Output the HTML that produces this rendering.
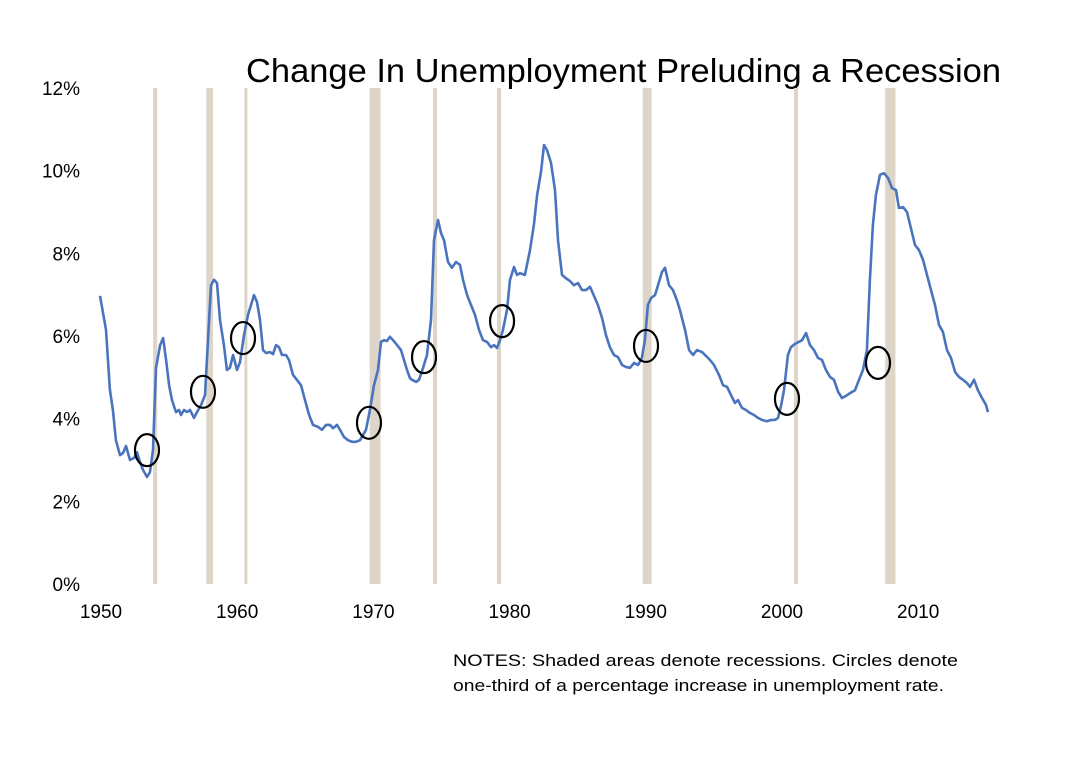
<!DOCTYPE html>
<html><head><meta charset="utf-8"><style>
body{margin:0;background:#fff;}
svg{display:block;font-family:"Liberation Sans",Arial,sans-serif;}
</style></head><body>
<svg id="chart" width="1088" height="760">
<text x="246" y="82" font-size="33" textLength="755" lengthAdjust="spacingAndGlyphs" fill="#000">Change In Unemployment Preluding a Recession</text>
<g id="bands"></g>
<g id="yticks"></g>
<g id="xticks"></g>
<path id="line" fill="none" stroke="#4a74bd" stroke-width="2.6" stroke-linejoin="round"/>
<g id="circles"></g>
<text x="453" y="666" font-size="17" textLength="505" lengthAdjust="spacingAndGlyphs" fill="#000">NOTES: Shaded areas denote recessions. Circles denote</text>
<text x="453" y="691" font-size="17" textLength="491" lengthAdjust="spacingAndGlyphs" fill="#000">one-third of a percentage increase in unemployment rate.</text>
</svg>
<script>
const years=[1950.00,1950.44,1950.73,1950.95,1951.17,1951.47,1951.69,1951.91,1952.20,1952.50,1952.72,1952.94,1953.16,1953.45,1953.67,1953.89,1954.11,1954.41,1954.63,1954.85,1955.07,1955.29,1955.58,1955.80,1955.95,1956.17,1956.39,1956.61,1956.90,1957.12,1957.42,1957.71,1957.93,1958.15,1958.37,1958.59,1958.81,1959.10,1959.32,1959.54,1959.77,1960.06,1960.28,1960.57,1960.87,1961.09,1961.31,1961.53,1961.75,1961.97,1962.19,1962.48,1962.70,1962.92,1963.14,1963.36,1963.66,1963.88,1964.17,1964.46,1964.76,1965.05,1965.35,1965.64,1966.01,1966.30,1966.59,1966.89,1967.11,1967.40,1967.62,1967.91,1968.21,1968.50,1968.80,1969.09,1969.53,1969.82,1970.12,1970.41,1970.63,1970.85,1971.07,1971.29,1971.51,1971.81,1972.10,1972.32,1972.54,1972.76,1972.91,1973.20,1973.42,1973.72,1974.01,1974.30,1974.52,1974.82,1975.04,1975.26,1975.55,1975.84,1976.14,1976.43,1976.65,1976.95,1977.24,1977.53,1977.83,1978.12,1978.41,1978.71,1978.93,1979.15,1979.37,1979.59,1979.88,1980.10,1980.40,1980.62,1980.84,1981.20,1981.57,1981.86,1982.09,1982.38,1982.60,1982.82,1983.11,1983.41,1983.63,1983.92,1984.21,1984.51,1984.80,1985.10,1985.39,1985.68,1985.98,1986.27,1986.56,1986.86,1987.15,1987.44,1987.74,1988.03,1988.33,1988.62,1988.91,1989.21,1989.50,1989.79,1990.01,1990.23,1990.46,1990.75,1990.97,1991.26,1991.48,1991.78,1992.07,1992.36,1992.58,1992.95,1993.25,1993.54,1993.83,1994.20,1994.49,1994.79,1995.08,1995.45,1995.74,1996.04,1996.33,1996.62,1996.84,1997.14,1997.43,1997.72,1998.02,1998.31,1998.60,1998.97,1999.27,1999.56,1999.78,2000.00,2000.22,2000.51,2000.73,2001.03,2001.32,2001.54,2001.84,2002.13,2002.42,2002.72,2003.01,2003.30,2003.60,2003.89,2004.19,2004.48,2004.77,2005.07,2005.43,2005.73,2006.02,2006.31,2006.53,2006.75,2006.97,2007.27,2007.56,2007.86,2008.15,2008.44,2008.66,2008.96,2009.25,2009.54,2009.84,2010.13,2010.43,2010.72,2011.01,2011.31,2011.60,2011.89,2012.19,2012.48,2012.78,2013.07,2013.36,2013.66,2013.88,2014.17,2014.46,2014.76,2015.05,2015.20];
const rates=[6.97,6.15,4.70,4.21,3.48,3.12,3.17,3.34,3.00,3.05,3.19,2.95,2.76,2.59,2.71,3.24,5.23,5.78,5.95,5.42,4.81,4.45,4.16,4.21,4.09,4.21,4.16,4.21,4.02,4.16,4.33,4.57,5.90,7.23,7.36,7.28,6.39,5.78,5.18,5.23,5.54,5.18,5.37,6.02,6.51,6.75,6.99,6.82,6.39,5.66,5.59,5.61,5.56,5.78,5.73,5.54,5.54,5.42,5.06,4.94,4.81,4.45,4.09,3.85,3.80,3.73,3.85,3.85,3.77,3.85,3.73,3.56,3.48,3.44,3.44,3.48,3.73,4.21,4.81,5.18,5.86,5.90,5.88,5.98,5.90,5.78,5.66,5.42,5.18,4.98,4.94,4.89,4.94,5.23,5.54,6.39,8.32,8.81,8.49,8.32,7.79,7.65,7.79,7.72,7.36,6.99,6.75,6.51,6.15,5.90,5.86,5.73,5.78,5.71,5.90,6.15,6.63,7.36,7.67,7.48,7.52,7.48,8.08,8.69,9.41,9.97,10.62,10.50,10.19,9.53,8.32,7.48,7.40,7.33,7.23,7.28,7.11,7.11,7.19,6.97,6.75,6.44,6.02,5.73,5.54,5.49,5.30,5.25,5.23,5.35,5.30,5.47,5.90,6.75,6.92,6.99,7.23,7.55,7.65,7.23,7.11,6.87,6.63,6.15,5.66,5.54,5.66,5.61,5.52,5.42,5.30,5.06,4.81,4.77,4.57,4.38,4.45,4.26,4.21,4.14,4.09,4.02,3.97,3.94,3.97,3.97,4.02,4.31,4.69,5.54,5.73,5.81,5.86,5.90,6.07,5.78,5.66,5.47,5.42,5.18,5.01,4.94,4.65,4.50,4.55,4.62,4.69,4.94,5.18,5.66,7.36,8.69,9.41,9.90,9.94,9.82,9.58,9.53,9.10,9.12,9.00,8.61,8.20,8.08,7.84,7.48,7.11,6.75,6.27,6.10,5.66,5.47,5.13,5.01,4.94,4.86,4.77,4.94,4.69,4.50,4.33,4.16];
const recStart=[1953.9,1957.8,1960.6,1969.8,1974.45,1979.15,1989.85,2000.95,2007.65];
const recEnd=[1954.2,1958.3,1960.8,1970.6,1974.75,1979.45,1990.5,2001.25,2008.4];
const circleYears=[1953.45,1957.56,1960.50,1969.75,1973.79,1979.52,1990.09,2000.44,2007.12];
const circleRates=[3.24,4.65,5.95,3.90,5.49,6.36,5.76,4.48,5.35];
const yTicks=[0,2,4,6,8,10,12];
const xTicks=[1950,1960,1970,1980,1990,2000,2010];

const NS="http://www.w3.org/2000/svg";
const X=y=>100+(y-1950)*13.62;
const Y=v=>584-v*41.33;
function mk(tag,attrs,parent){const e=document.createElementNS(NS,tag);for(const k in attrs)e.setAttribute(k,attrs[k]);parent.appendChild(e);return e;}
const bands=document.getElementById('bands');
recStart.forEach((s,i)=>{
  const r=mk('rect',{x:X(s),y:88,width:Math.max(3,X(recEnd[i])-X(s)),height:496,fill:'#dcd5c8'},bands);
  
  
});
const yt=document.getElementById('yticks');
yTicks.forEach(v=>{
  const t=mk('text',{x:80,y:Y(v)+7,'font-size':19,'text-anchor':'end',fill:'#000'},yt);
  t.textContent=v+'%';
  
  
});
const xt=document.getElementById('xticks');
xTicks.forEach(v=>{
  const t=mk('text',{x:X(v)+1,y:618,'font-size':19,'text-anchor':'middle',fill:'#000'},xt);
  t.textContent=v;
  
  
});
document.getElementById('line').setAttribute('d',years.map((y,i)=>(i?'L':'M')+X(y).toFixed(1)+','+Y(rates[i]).toFixed(1)).join(''));
const cg=document.getElementById('circles');
circleYears.forEach((y,i)=>{
  const c=mk('ellipse',{cx:X(y),cy:Y(circleRates[i]),rx:12,ry:16,fill:'none',stroke:'#000','stroke-width':2.2},cg);
  
  
});
</script>
</body></html>
